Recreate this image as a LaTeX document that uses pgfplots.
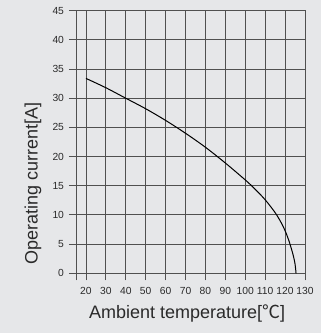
\documentclass[border=0pt]{standalone}
\usepackage{pgfplots}
\pgfplotsset{compat=1.18}
\usepackage{fontspec}
\setmainfont{Liberation Sans}
\newfontfamily\cjk{Noto Sans CJK SC}
\definecolor{bgc}{HTML}{E6E7E9}
\definecolor{gridc}{HTML}{505050}
\definecolor{txt}{HTML}{2A2A2A}
\begin{document}
\begin{tikzpicture}[x=1pt,y=1pt]
  \fill[bgc] (0,0) rectangle (321,333);
  \begin{axis}[
    at={(76pt,59.7pt)}, anchor=south west,
    scale only axis, width=229pt, height=262.6pt,
    xmin=15, xmax=130, ymin=0, ymax=45,
    xtick={15,20,30,40,50,60,70,80,90,100,110,120,130},
    xticklabels={,20,30,40,50,60,70,80,90,100,110,120,130},
    ytick={0,5,...,45},
    tick pos=left, tick align=outside,
    major tick length=7pt,
    grid=major,
    major grid style={color=gridc, line width=0.9pt},
    axis line style={color=gridc, line width=0.9pt},
    every tick/.style={color=gridc, line width=0.9pt},
    /pgf/number format/assume math mode=true,
    tick label style={font=\fontsize{10.3}{10.3}\selectfont, text=txt},
    yticklabel style={xshift=-1.5pt},
    xticklabel style={yshift=-3pt, inner xsep=0pt},
    xlabel={Ambient temperature[{\cjk ℃}]},
    ylabel={Operating current[A]},
    label style={font=\fontsize{18}{18}\selectfont, text=txt},
    xlabel style={at={(axis description cs:0.485,-0.152)}, anchor=center},
    ylabel style={at={(axis description cs:-0.188,0.342)}, anchor=center, rotate=0},
  ]
    \addplot[black, line width=1pt, smooth, no markers] coordinates {
      (20,33.4) (30,31.8) (40,30) (50,28.2) (60,26.2) (70,24) (80,21.6)
      (90,18.9) (100,16) (105,14.4) (110,12.6) (115,10.4) (118,8.7)
      (120,7.3) (122,5.5) (124,3.2) (125,1.6) (125.5,0)
    };
  \end{axis}
  \pgfresetboundingbox
  \path (0,0) rectangle (321,333);
\end{tikzpicture}
\end{document}
